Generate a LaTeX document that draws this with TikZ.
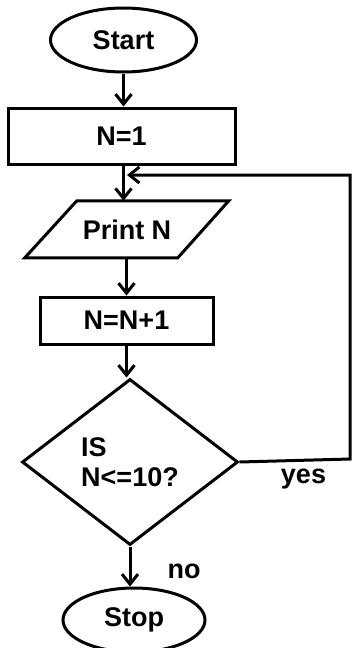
\documentclass[tikz,border=0pt]{standalone}
\usepackage{fontspec}
\setmainfont{Liberation Sans}
\usetikzlibrary{shapes.geometric,arrows.meta}
\begin{document}
\begin{tikzpicture}[x=1pt,y=-1pt,
  every node/.style={font=\fontsize{27}{30}\selectfont\bfseries},
  line/.style={line width=3pt},
  arr/.style={line, -{Straight Barb[length=10pt,width=16pt,line width=3pt]}},
  term/.style={ellipse, draw, line width=3pt, inner sep=0pt},
  proc/.style={rectangle, draw, line width=3pt, inner sep=0pt},
  iotext/.style={rectangle, inner sep=0pt},
  decision/.style={diamond, draw, line width=3pt, inner sep=0pt, align=left},
  lbl/.style={anchor=base, inner sep=0pt}]
\useasboundingbox (0,0) rectangle (352,648);
\node[term, minimum width=146pt, minimum height=64pt] (start) at (123.5,40) {Start};
\node[proc, minimum width=227pt, minimum height=56pt] (n1) at (121.5,136) {N=1};
\node[iotext, minimum width=152pt, minimum height=57pt] (print) at (127,229.5) {Print N};
\draw[line, line join=miter] (print.north west) ++(26,0) -- ++(152,0) -- ++(-51,57) -- ++(-153,0) -- cycle;
\node[proc, minimum width=173pt, minimum height=47pt] (inc) at (126.5,320.5) {N=N+1};
\node[decision, minimum width=216pt, minimum height=166pt] (dec) at (130,462) {IS\\N<=10?};
\node[term, minimum width=142pt, minimum height=64pt] (stop) at (134,620) {Stop};
\node[lbl] (yes) at (303.5,483) {yes};
\node[lbl] (no) at (184,578) {no};
\coordinate (c1) at (350,459);
\coordinate (c2) at (350,175);
\coordinate (c3) at (127,175);
\draw[arr] (start.south) -- (start.south |- n1.north);
\draw[arr] (n1.south -| start.south) -- (start.south |- print.north);
\draw[arr] (print.south -| inc.north) -- (inc.north);
\draw[arr] (inc.south) -- (inc.south |- dec.north);
\draw[arr] (dec.south) -- (dec.south |- stop.north);
\draw[arr] (dec.east) -- (c1) -- (c2) -- (c3);
\end{tikzpicture}
\end{document}
